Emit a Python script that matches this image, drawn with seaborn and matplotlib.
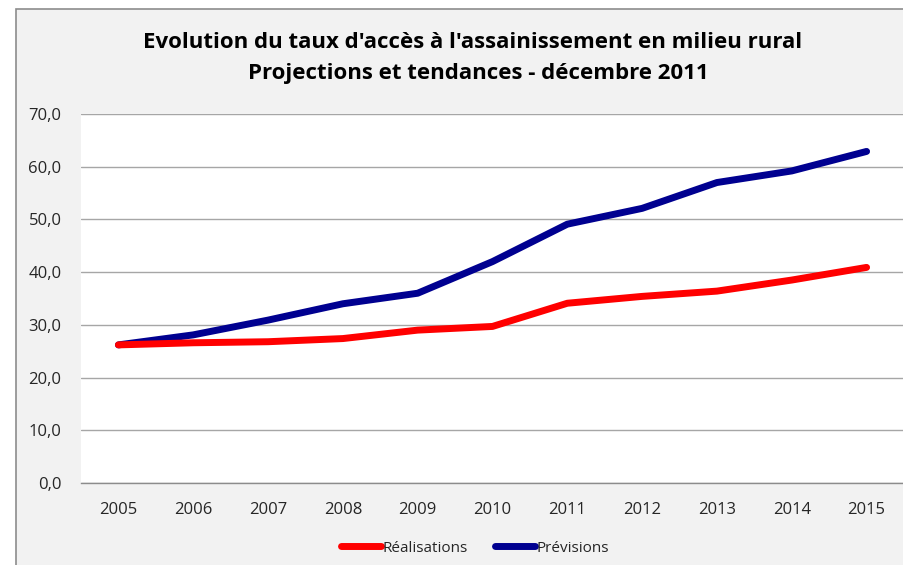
import pandas as pd
import seaborn as sns
import matplotlib.pyplot as plt
from matplotlib.patches import Rectangle

sns.set_theme(style='white')
plt.rcParams['font.family'] = ['Open Sans', 'DejaVu Sans']

# donnees
years = ['2005', '2006', '2007', '2008', '2009', '2010', '2011', '2012', '2013', '2014', '2015']
realisations = [26.2, 26.6, 26.8, 27.4, 29.0, 29.7, 34.1, 35.4, 36.4, 38.5, 40.9]
previsions = [26.2, 28.1, 30.9, 34.0, 36.0, 42.0, 49.1, 52.1, 57.0, 59.2, 62.9]
series_names = ['Réalisations', 'Prévisions']
series_colors = ['#ff0000', '#000090']

df = pd.DataFrame({
    'annee': years * 2,
    'taux': realisations + previsions,
    'serie': [series_names[0]] * len(years) + [series_names[1]] * len(years),
})

fig = plt.figure(figsize=(9.04, 5.65), dpi=100)
fig.patch.set_facecolor('white')
# cadre gris du graphique
fig.patches.append(Rectangle((16 / 904, -0.01), 1, 1.01 - 9 / 565, transform=fig.transFigure,
                             facecolor='#f2f2f2', edgecolor='#8c8c8c', linewidth=1.2, zorder=-5))

ax = fig.add_axes([81 / 904, 1 - 483 / 565, 1 - 81 / 904, (483 - 114) / 565])
ax.set_facecolor('white')

sns.lineplot(data=df, x='annee', y='taux', hue='serie', palette=series_colors,
             linewidth=5.0, ax=ax, legend=False, sort=False)
for line in ax.lines:
    line.set_solid_capstyle('round')
    line.set_solid_joinstyle('round')
# la courbe rouge passe au-dessus de la bleue au depart comme dans l'original
ax.lines[0].set_zorder(3)

ax.set_ylim(0, 70)
ax.set_xlim(-0.5, len(years) - 0.5)
ax.set_yticks(range(0, 71, 10))
ax.set_yticklabels(['{:.1f}'.format(v).replace('.', ',') for v in range(0, 71, 10)])
ax.yaxis.grid(True, color='#a6a6a6', linewidth=1.0)
ax.set_axisbelow(True)
for s in ['left', 'right', 'top']:
    ax.spines[s].set_visible(False)
ax.spines['bottom'].set_color('#8c8c8c')
ax.spines['bottom'].set_linewidth(1.0)
ax.tick_params(axis='y', length=0, pad=14, labelsize=12, labelcolor='#262626')
ax.tick_params(axis='x', length=0, pad=14, labelsize=12, labelcolor='#262626')
ax.set_xlabel('')
ax.set_ylabel('')

fig.text(473 / 904, 1 - 43 / 565, "Evolution du taux d'accès à l'assainissement en milieu rural",
         ha='center', va='center', fontsize=16, fontweight='bold', color='black')
fig.text(478 / 904, 1 - 74 / 565, 'Projections et tendances - décembre 2011',
         ha='center', va='center', fontsize=16, fontweight='bold', color='black')

handles = [plt.Line2D([], [], color=c, linewidth=5.0, solid_capstyle='round') for c in series_colors]
fig.legend(handles, series_names, loc='center', bbox_to_anchor=(475 / 904, 1 - 548 / 565),
           ncol=2, frameon=False, fontsize=11, handlelength=2.6, handletextpad=0.1,
           columnspacing=1.8)

fig.savefig('out.png', dpi=100, facecolor=fig.get_facecolor())
